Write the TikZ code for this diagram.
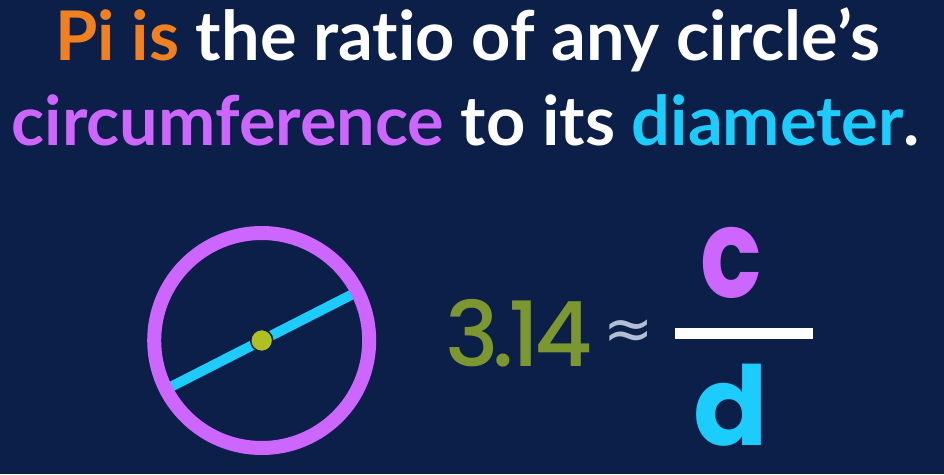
\documentclass[tikz,border=0pt]{standalone}
\usepackage{fontspec}
\usetikzlibrary{calc}
\setmainfont{Lato}[Ligatures=NoCommon]
\newfontfamily\popmed{Poppins Medium}
\newfontfamily\popbold{Poppins Bold}
\newfontfamily\djv{DejaVu Sans}
\definecolor{bgnavy}{RGB}{11,31,72}
\definecolor{piorange}{RGB}{240,128,32}
\definecolor{pipurple}{RGB}{204,102,255}
\definecolor{picyan}{RGB}{28,204,252}
\definecolor{piolive}{RGB}{124,150,48}
\definecolor{pidot}{RGB}{176,192,32}
\definecolor{pigray}{RGB}{178,190,214}
\tikzset{
  titletext/.style={anchor=base, inner sep=0pt, text=white, font=\fontsize{68.5}{74}\selectfont\bfseries},
  bigtext/.style={anchor=base, inner sep=0pt}
}
\begin{document}
\begin{tikzpicture}[x=1pt,y=-1pt]
\fill[bgnavy] (0,0) rectangle (944,474);
\useasboundingbox (0,0) rectangle (944,474);
% title
\node[titletext] (t1) at (468,60.7) {\textcolor{piorange}{Pi is} the ratio of any circle’s};
\node[titletext] (t2) at (466,145) {\textcolor{pipurple}{circumference} to its \textcolor{picyan}{diameter}.};
% circle with diameter
\coordinate (ctr) at (261.7,340.5);
\draw[picyan, line width=10pt] ($(ctr)+(153:107)$) -- ($(ctr)+(-27:107)$);
\draw[pipurple, line width=14pt] (ctr) circle[radius=107.5];
\node[circle, fill=pidot, draw=bgnavy, line width=1.5pt, minimum size=22pt, inner sep=0pt] (dot) at (ctr) {};
% equation
\node[bigtext, text=piolive, font=\fontsize{90}{96}\popmed] (pi) at (519,366.7) {3\kern-7pt.\kern-5pt1\kern-6pt4};
\node[text=pigray, font=\fontsize{60}{64}\djv, inner sep=0pt] (apx) at (629,335) {≈};
\fill[white] (675,327.7) rectangle (813.3,339) coordinate (bar);
\node[bigtext, text=pipurple, font=\fontsize{124}{126}\popbold] (c) at (731,297) {\scalebox{0.82}[1]{c}};
\node[bigtext, text=picyan, font=\fontsize{110}{112}\popbold] (d) at (731,445) {d};
\end{tikzpicture}
\end{document}
